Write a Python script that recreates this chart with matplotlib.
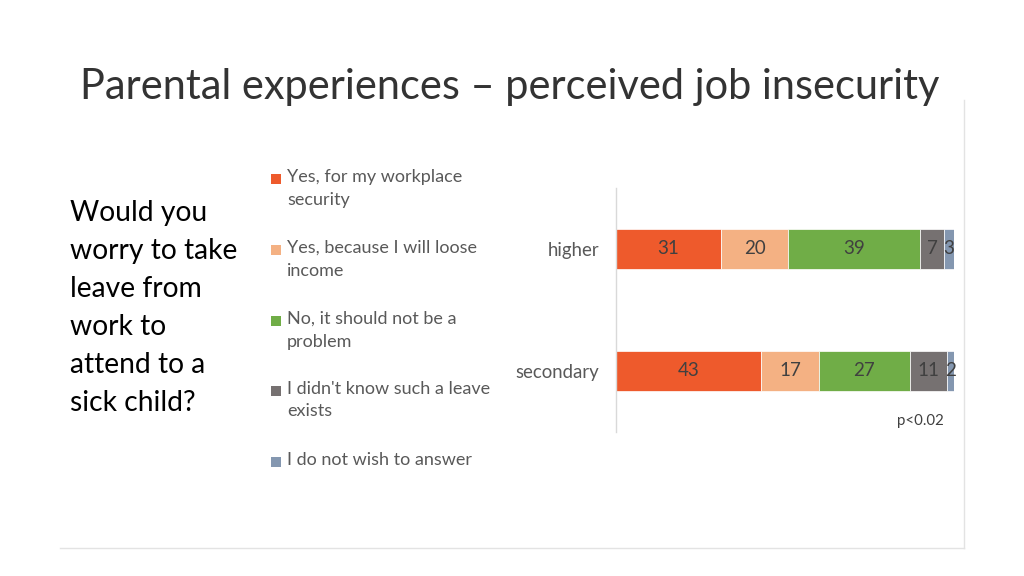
import matplotlib
matplotlib.use("Agg")
import matplotlib.pyplot as plt
from matplotlib.patches import Rectangle
from matplotlib.lines import Line2D

plt.rcParams['font.family'] = ['Lato', 'DejaVu Sans']

categories = ["higher", "secondary"]
series_labels = [
    "Yes, for my workplace\nsecurity",
    "Yes, because I will loose\nincome",
    "No, it should not be a\nproblem",
    "I didn't know such a leave\nexists",
    "I do not wish to answer",
]
values = [
    [31, 43],
    [20, 17],
    [39, 27],
    [7, 11],
    [3, 2],
]
colors = ["#EE5A2C", "#F4B183", "#70AD47", "#767171", "#8497B0"]
title = "Parental experiences \u2013 perceived job insecurity"
question_lines = ["Would you", "worry to take", "leave from", "work to", "attend to a", "sick child?"]
note = "p<0.02"

W, H = 1024, 576
fig = plt.figure(figsize=(W / 100, H / 100), dpi=100)
fig.patch.set_facecolor("white")

def fx(x):
    return x / W

def fy(y):
    return 1 - y / H

# Bar axes
ax = fig.add_axes([fx(616), fy(432), fx(954) - fx(616), (432 - 188) / H])
ypos = list(range(len(categories)))
left = [0] * len(categories)
for vals, col in zip(values, colors):
    bars = ax.barh(ypos, vals, left=left, height=0.33, color=col, edgecolor="white", linewidth=0.5)
    for b, v in zip(bars, vals):
        ax.text(b.get_x() + b.get_width() / 2, b.get_y() + b.get_height() / 2, str(v),
                ha="center", va="center", fontsize=13.5, color="#404040")
    left = [l + v for l, v in zip(left, vals)]

ax.set_xlim(0, 100)
ax.set_ylim(1.5, -0.5)
ax.set_yticks(ypos)
ax.set_yticklabels(categories, fontsize=13.4, color="#595959")
ax.tick_params(axis="y", length=0, pad=12)
ax.set_xticks([])
for s in ["top", "right", "bottom"]:
    ax.spines[s].set_visible(False)
ax.spines["left"].set_color("#D9D9D9")
ax.spines["left"].set_linewidth(1)

# Title
fig.text(fx(510), fy(87), title, ha="center", va="center", fontsize=29.9,
         fontweight="normal", color="#333333")

# Question text
for i, line in enumerate(question_lines):
    fig.text(fx(70), fy(213 + 38 * i), line, ha="left", va="center", fontsize=20.3, color="#000000")

# Manual legend
legend_y = [179, 250, 321, 391, 462]
for lab, col, y in zip(series_labels, colors, legend_y):
    fig.add_artist(Rectangle((fx(271), fy(y + 5)), fx(10), 10 / H, transform=fig.transFigure,
                             facecolor=col, edgecolor="none"))
    fig.text(fx(287), fy(y - 10), lab, ha="left", va="top", fontsize=13, color="#595959",
             linespacing=1.5)

# Note
fig.text(fx(944), fy(421), note, ha="right", va="center", fontsize=10.8, color="#404040")

# Frame lines
fig.add_artist(Line2D([fx(964), fx(964)], [fy(100), fy(548)], transform=fig.transFigure,
                      color="#E3E3E3", linewidth=1))
fig.add_artist(Line2D([fx(60), fx(964)], [fy(548), fy(548)], transform=fig.transFigure,
                      color="#E3E3E3", linewidth=1))

fig.savefig("out.png", dpi=100)
